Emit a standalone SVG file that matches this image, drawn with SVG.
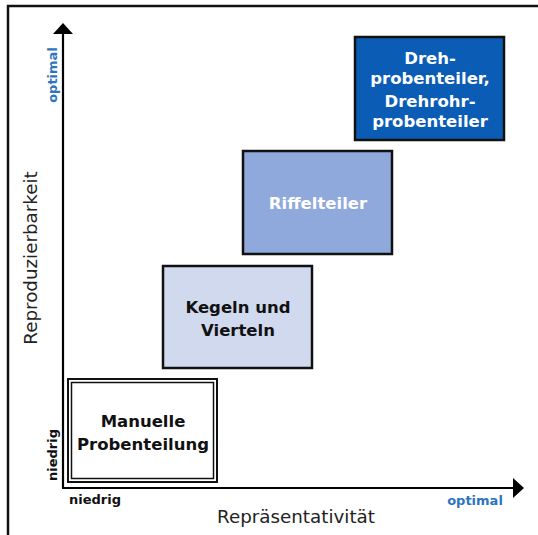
<svg xmlns="http://www.w3.org/2000/svg" width="538" height="535" viewBox="0 0 538 535">
<style>
.box{stroke:#111;stroke-width:2.5}
.lbl{font-family:"DejaVu Sans",Verdana,sans-serif;font-weight:bold;font-size:16.5px;text-anchor:middle}
.ax{font-family:"DejaVu Sans",Verdana,sans-serif;font-size:18.3px;text-anchor:middle;fill:#222}
.tick{font-family:"DejaVu Sans",Verdana,sans-serif;font-weight:bold;font-size:13px;text-anchor:middle}
</style>
<defs>
<marker id="ah" markerWidth="10" markerHeight="10" refX="10" refY="5" orient="auto" markerUnits="userSpaceOnUse" viewBox="0 0 10 10">
<path d="M0,0 L10,5 L0,10 Z" fill="#000"/>
</marker>
</defs>
<rect width="538" height="535" fill="#fff"/>
<path d="M8,540 L8,6 L545,6" fill="none" stroke="#111" stroke-width="2.5"/>
<g id="connectors">
<line x1="63" y1="488" x2="63" y2="34" stroke="#000" stroke-width="2.2"/>
<path d="M53,34 L63,23 L73,34 Z" fill="#000"/>
<line x1="62" y1="488" x2="513" y2="488" stroke="#000" stroke-width="2.2"/>
<path d="M513,478 L524,488 L513,498 Z" fill="#000"/>
</g>
<g id="axes-labels">
<text class="ax" transform="translate(37,258) rotate(-90)">Reproduzierbarkeit</text>
<text class="ax" x="296" y="523">Repräsentativität</text>
<text class="tick" x="95" y="504" fill="#111">niedrig</text>
<text class="tick" transform="translate(57,455) rotate(-90)" fill="#111">niedrig</text>
<text class="tick" x="475" y="505" fill="#2e74c0">optimal</text>
<text class="tick" transform="translate(57,75) rotate(-90)" fill="#2e74c0">optimal</text>
</g>
<g id="manuelle">
<rect x="68" y="379" width="149" height="103" fill="#fff" stroke="#111" stroke-width="2"/>
<rect x="71.5" y="382.5" width="142" height="96" fill="none" stroke="#111" stroke-width="1.5"/>
<text class="lbl" x="143" y="427" fill="#111">Manuelle</text>
<text class="lbl" x="143" y="450" fill="#111">Probenteilung</text>
</g>
<g id="kegeln">
<rect class="box" x="163" y="266" width="149" height="102" fill="#d0d9ee"/>
<text class="lbl" x="238" y="313" fill="#111">Kegeln und</text>
<text class="lbl" x="238" y="336" fill="#111">Vierteln</text>
</g>
<g id="riffelteiler">
<rect class="box" x="243" y="151" width="149" height="103" fill="#8fa9dc" stroke="#1a1a2e"/>
<text class="lbl" x="318" y="209" fill="#fff">Riffelteiler</text>
</g>
<g id="dreh">
<rect class="box" x="355" y="37" width="149" height="103" fill="#0b5cb5"/>
<text class="lbl" x="430" y="64" fill="#fff">Dreh-</text>
<text class="lbl" x="430" y="84" fill="#fff">probenteiler,</text>
<text class="lbl" x="430" y="107" fill="#fff">Drehrohr-</text>
<text class="lbl" x="430" y="127" fill="#fff">probenteiler</text>
</g>
</svg>
